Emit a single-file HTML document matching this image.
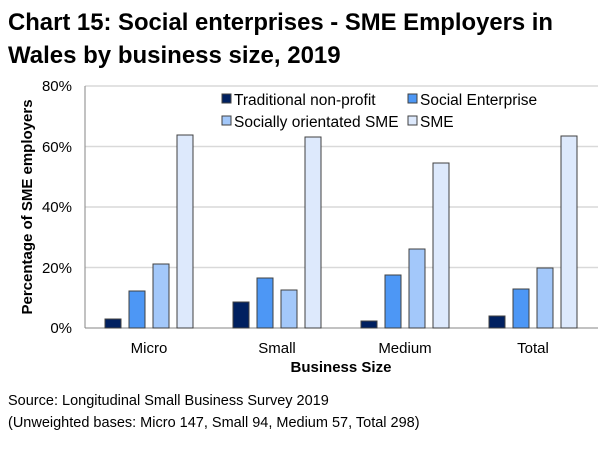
<!DOCTYPE html><html><head><style>body{margin:0;background:#fff}svg{font-family:"Liberation Sans",Arial,sans-serif}</style></head><body>
<svg width="615" height="446" viewBox="0 0 615 446">
<text x="8" y="30" font-size="24" font-weight="bold" fill="#000" textLength="545" lengthAdjust="spacingAndGlyphs">Chart 15: Social enterprises - SME Employers in</text>
<text x="8" y="63" font-size="24" font-weight="bold" fill="#000">Wales by business size, 2019</text>
<g stroke="#d9d9d9" stroke-width="1.5">
<line x1="85" y1="86" x2="598" y2="86"/><line x1="85" y1="146.5" x2="598" y2="146.5"/><line x1="85" y1="207" x2="598" y2="207"/><line x1="85" y1="267.5" x2="598" y2="267.5"/>
</g>
<line x1="85" y1="86" x2="85" y2="328" stroke="#868686"/>
<line x1="85" y1="328" x2="598" y2="328" stroke="#868686"/>
<g font-size="15" text-anchor="end" fill="#000">
<text x="72" y="91">80%</text><text x="72" y="152">60%</text><text x="72" y="212">40%</text><text x="72" y="273">20%</text><text x="72" y="333">0%</text>
</g>
<text transform="translate(32,207) rotate(-90)" font-size="15" font-weight="bold" text-anchor="middle">Percentage of SME employers</text>
<g stroke="#404040" stroke-width="1">
<rect x="105" y="319" width="16" height="9" fill="#002060"/>
<rect x="129" y="291" width="16" height="37" fill="#4d97f5"/>
<rect x="153" y="264" width="16" height="64" fill="#a3c8fa"/>
<rect x="177" y="135" width="16" height="193" fill="#dde9fc"/>
<rect x="233" y="302" width="16" height="26" fill="#002060"/>
<rect x="257" y="278" width="16" height="50" fill="#4d97f5"/>
<rect x="281" y="290" width="16" height="38" fill="#a3c8fa"/>
<rect x="305" y="137" width="16" height="191" fill="#dde9fc"/>
<rect x="361" y="321" width="16" height="7" fill="#002060"/>
<rect x="385" y="275" width="16" height="53" fill="#4d97f5"/>
<rect x="409" y="249" width="16" height="79" fill="#a3c8fa"/>
<rect x="433" y="163" width="16" height="165" fill="#dde9fc"/>
<rect x="489" y="316" width="16" height="12" fill="#002060"/>
<rect x="513" y="289" width="16" height="39" fill="#4d97f5"/>
<rect x="537" y="268" width="16" height="60" fill="#a3c8fa"/>
<rect x="561" y="136" width="16" height="192" fill="#dde9fc"/>
</g>
<g font-size="15" text-anchor="middle">
<text x="149" y="353">Micro</text><text x="277" y="353">Small</text><text x="405" y="353">Medium</text><text x="533" y="353">Total</text>
<text x="341" y="372" font-weight="bold">Business Size</text>
</g>
<g stroke="#404040" stroke-width="1">
<rect x="222" y="94" width="9" height="9" fill="#002060"/>
<rect x="408" y="94" width="9" height="9" fill="#4d97f5"/>
<rect x="222" y="116" width="9" height="9" fill="#a3c8fa"/>
<rect x="408" y="116" width="9" height="9" fill="#dde9fc"/>
</g>
<g font-size="15.5">
<text x="234" y="105">Traditional non-profit</text>
<text x="420" y="105">Social Enterprise</text>
<text x="234" y="127">Socially orientated SME</text>
<text x="420" y="127">SME</text>
</g>
<g font-size="14.5">
<text x="8" y="405">Source: Longitudinal Small Business Survey 2019</text>
<text x="8" y="427">(Unweighted bases: Micro 147, Small 94, Medium 57, Total 298)</text>
</g>
</svg></body></html>
